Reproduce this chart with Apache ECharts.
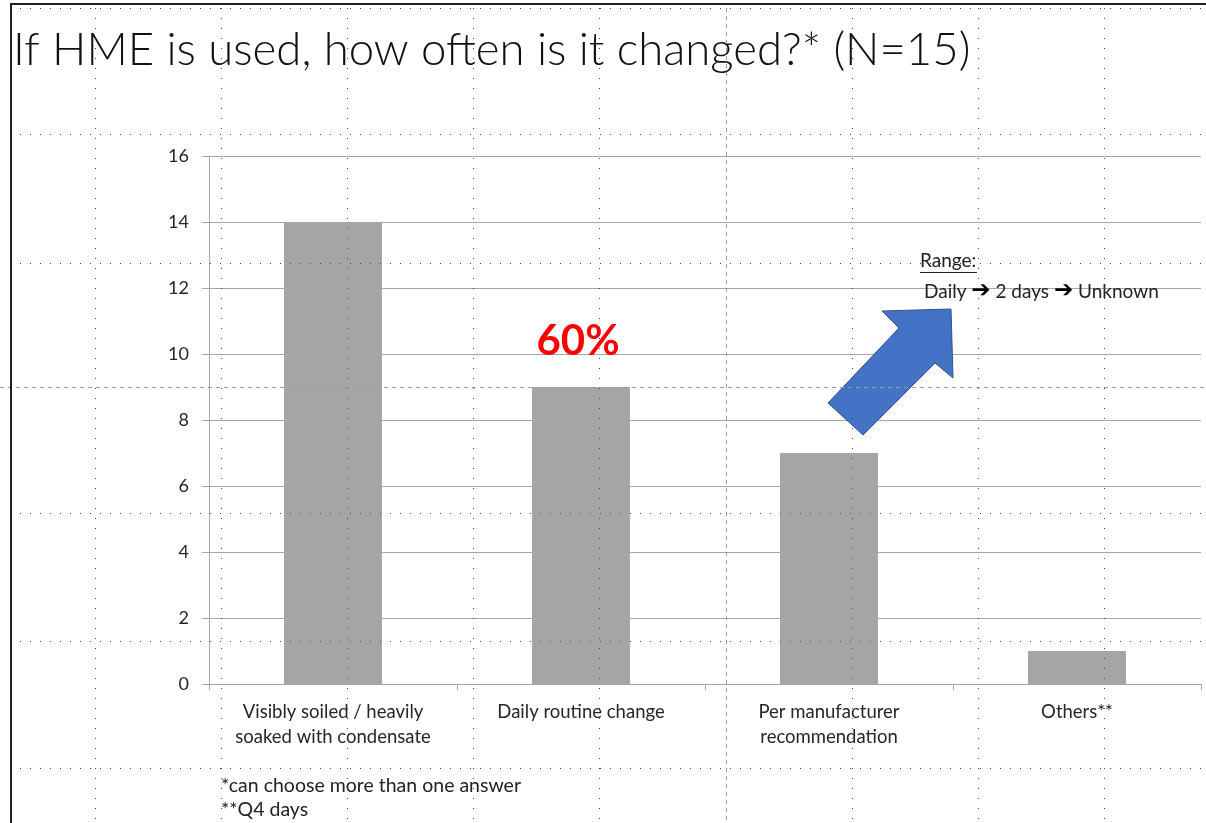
<!DOCTYPE html>
<html>
<head>
<meta charset="utf-8">
<script src="https://cdn.jsdelivr.net/npm/echarts@6/dist/echarts.min.js"></script>
<style>
html,body{margin:0;padding:0;background:#fff;}
#chart{width:1206px;height:823px;}
</style>
</head>
<body>
<div id="chart"></div>
<script>
// ---- data ----
const titleText = 'If HME is used, how often is it changed?* (N=15)';
const totalN = 15;
const categories = [
  'Visibly soiled / heavily\nsoaked with condensate',
  'Daily routine change',
  'Per manufacturer\nrecommendation',
  'Others**'
];
const counts = [14, 9, 7, 1];
const highlightIndex = 1;           // bar annotated with its share of N
const yTicks = { min: 0, max: 16, interval: 2 };
const rangeTitle = 'Range:';
const rangeSteps = ['Daily', '2 days', 'Unknown'];
const footnotes = ['*can choose more than one answer', '**Q4 days'];

// ---- chart ----
const FONT = 'Lato';
const chart = echarts.init(document.getElementById('chart'), null, { renderer: 'canvas' });

const barData = counts.map((v, i) => {
  if (i !== highlightIndex) return v;
  return {
    value: v,
    label: {
      show: true,
      position: 'top',
      distance: 25,
      offset: [-3, 0],
      formatter: p => Math.round(p.value / totalN * 100) + '%',
      color: '#ff0000',
      fontSize: 42,
      fontWeight: 'bold',
      fontFamily: FONT
    }
  };
});

// PowerPoint guide lines visible in the screenshot
const guides = [];
const hDots = [8, 134, 263, 513, 641, 768];
const vDots = [95, 221, 347, 473, 599, 852, 978, 1104];
hDots.forEach(y => guides.push({
  type: 'line', silent: true, z: 100,
  shape: { x1: 20, y1: y + 0.5, x2: 1206, y2: y + 0.5 },
  style: { stroke: '#444', lineWidth: 1, lineDash: [1, 9] }
}));
vDots.forEach(x => guides.push({
  type: 'line', silent: true, z: 100,
  shape: { x1: x + 0.5, y1: 8, x2: x + 0.5, y2: 823 },
  style: { stroke: '#444', lineWidth: 1, lineDash: [1, 9] }
}));
guides.push({
  type: 'line', silent: true, z: 100,
  shape: { x1: 0, y1: 387.5, x2: 1206, y2: 387.5 },
  style: { stroke: '#999', lineWidth: 1, lineDash: [4, 4] }
});
guides.push({
  type: 'line', silent: true, z: 100,
  shape: { x1: 726.5, y1: 8, x2: 726.5, y2: 823 },
  style: { stroke: '#999', lineWidth: 1, lineDash: [4, 4] }
});

const option = {
  backgroundColor: '#ffffff',
  animation: false,
  textStyle: { fontFamily: FONT },
  title: {
    text: titleText,
    left: 13,
    top: 27,
    padding: 0,
    textStyle: { fontSize: 45.5, fontWeight: 300, fontFamily: FONT, color: '#111' }
  },
  grid: {
    left: 209, right: 5, top: 156, bottom: 139,
    containLabel: false,
    outerBoundsMode: 'none'
  },
  xAxis: {
    type: 'category',
    data: categories,
    axisLine: { show: true, lineStyle: { color: '#a6a6a6', width: 1 } },
    axisTick: { show: true, length: 6, alignWithLabel: false, interval: 0, lineStyle: { color: '#a6a6a6' } },
    axisLabel: {
      interval: 0, margin: 16, fontSize: 18.5, lineHeight: 25,
      color: '#262626', fontFamily: FONT
    },
    splitLine: { show: false }
  },
  yAxis: {
    type: 'value',
    min: yTicks.min, max: yTicks.max, interval: yTicks.interval,
    axisLine: { show: true, lineStyle: { color: '#a6a6a6', width: 1 } },
    axisTick: { show: true, length: 7, lineStyle: { color: '#a6a6a6' } },
    axisLabel: { margin: 20, fontSize: 18, color: '#262626', fontFamily: FONT },
    splitLine: { show: true, lineStyle: { color: '#a6a6a6', width: 1 } }
  },
  series: [{
    type: 'bar',
    data: barData,
    barWidth: '39.5%',
    itemStyle: { color: '#a5a5a5' },
    label: { show: false }
  }],
  graphic: [
    // slide frame
    { type: 'line', silent: true, z: 120, shape: { x1: 10, y1: 4, x2: 1206, y2: 4 }, style: { stroke: '#222', lineWidth: 2 } },
    { type: 'line', silent: true, z: 120, shape: { x1: 11, y1: 3, x2: 11, y2: 823 }, style: { stroke: '#222', lineWidth: 2 } },
    // blue block arrow
    {
      type: 'polygon', z: 50,
      shape: { points: [[828, 403], [899, 328], [882, 311], [951, 309], [953, 378], [935, 363], [863, 435]] },
      style: { fill: '#4472c4', stroke: '#2f528f', lineWidth: 1 }
    },
    // range annotation
    {
      type: 'text', z: 60, left: 920, top: 251,
      style: { text: rangeTitle, fontSize: 19, fontFamily: FONT, fill: '#222' }
    },
    { type: 'line', z: 60, shape: { x1: 920, y1: 272.5, x2: 977, y2: 272.5 }, style: { stroke: '#222', lineWidth: 1 } },
    {
      type: 'text', z: 60, left: 924, top: 280,
      style: {
        text: rangeSteps.join(' {a|\u2794} '),
        fontSize: 19, fontFamily: FONT, fill: '#222',
        rich: { a: { fontSize: 23, fontWeight: 'bold', fontFamily: 'DejaVu Sans', fill: '#000' } }
      }
    },
    // footnotes
    {
      type: 'text', z: 60, left: 221, top: 774,
      style: { text: footnotes.join('\n'), fontSize: 19.5, lineHeight: 24, fontFamily: FONT, fill: '#222' }
    }
  ].concat(guides)
};
chart.setOption(option);
</script>
</body>
</html>
